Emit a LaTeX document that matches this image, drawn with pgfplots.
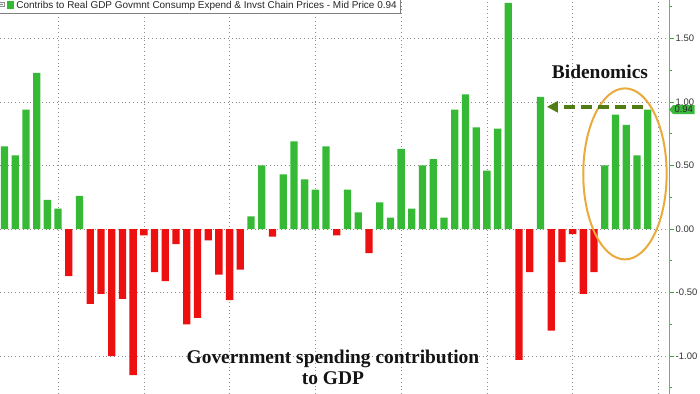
\documentclass[border=0pt]{standalone}
\usepackage{pgfplots}
\pgfplotsset{compat=1.18}
\usepackage{pgfplotstable}
\usepackage{fontspec}
\setmainfont{Liberation Sans}
\newfontfamily\annfont{Liberation Serif}
\usetikzlibrary{arrows.meta,shapes.symbols}
\definecolor{barGreen}{RGB}{54,186,54}
\definecolor{barRed}{RGB}{236,16,16}
\definecolor{axisGreen}{RGB}{120,170,120}
\definecolor{tickGreen}{RGB}{60,160,60}
\definecolor{arrowGreen}{RGB}{80,125,20}
\definecolor{ellOrange}{RGB}{234,170,60}
\definecolor{labelGreen}{RGB}{60,185,60}

\pgfplotstableread{
x y
0 0.65
1 0.58
2 0.94
3 1.23
4 0.23
5 0.16
7 0.26
23 0.10
24 0.50
26 0.43
27 0.69
28 0.39
29 0.31
30 0.65
32 0.31
33 0.13
35 0.21
36 0.09
37 0.63
38 0.16
39 0.50
40 0.55
41 0.09
42 0.94
43 1.06
44 0.80
45 0.46
46 0.79
47 1.78
50 1.04
56 0.50
57 0.90
58 0.82
59 0.58
60 0.94
}\greendata

\pgfplotstableread{
x y
6 -0.37
8 -0.59
9 -0.51
10 -1.00
11 -0.55
12 -1.15
13 -0.05
14 -0.34
15 -0.41
16 -0.12
17 -0.75
18 -0.70
19 -0.09
20 -0.36
21 -0.56
22 -0.32
25 -0.06
31 -0.05
34 -0.19
48 -1.03
49 -0.34
51 -0.80
52 -0.26
53 -0.04
54 -0.51
55 -0.34
}\reddata

\begin{document}
\begin{tikzpicture}
\begin{axis}[
  at={(0,0)}, anchor=south west,
  scale only axis, width=669bp, height=394bp,
  xmin=-0.42, xmax=61.99, ymin=-1.299, ymax=1.803,
  axis x line=bottom, x axis line style={draw=none},
  xtick={5,13,...,61}, xticklabels={},
  major x tick style={draw=none},
  axis y line=right, y axis line style={color=axisGreen, line width=0.8bp, -},
  ytick={-1,-0.5,0,0.5,1,1.5},
  minor ytick={-1.25,-0.75,-0.25,0.25,0.75,1.25,1.75},
  tick align=outside, major tick length=5bp, minor tick length=3bp,
  y tick style={color=tickGreen, line width=0.8bp},
  grid=major,
  major grid style={color=black!45, line width=0.7bp, dash pattern=on 0.8bp off 3bp},
  yticklabel style={font=\fontsize{9.5}{10}\selectfont, text=black!80, inner xsep=1.5bp,
    /pgf/number format/fixed, /pgf/number format/fixed zerofill,
    /pgf/number format/precision=2, /pgf/number format/assume math mode=true},
  legend style={at={(axis description cs:-0.003,1.006)}, anchor=north west,
    draw=black!50, fill=white, inner sep=1.2bp, font=\fontsize{10}{11}\selectfont,
    text=black!85},
  legend image code/.code={
    \draw[black!45, line width=0.3bp, fill=white] (0bp,-0.5bp) rectangle (4.2bp,3.7bp);
    \draw[black!45, line width=0.3bp] (0.8bp,1.6bp) -- (3.4bp,1.6bp);
    \fill[barGreen] (7bp,-3.4bp) rectangle (14.8bp,4.4bp);
  },
  clip=false,
]
\addplot[ybar, bar width=7.3bp, bar shift=0pt, fill=barGreen, draw=none] table[x=x,y=y] {\greendata};
\addlegendentry{Contribs to Real GDP Govmnt Consump Expend \& Invst Chain Prices - Mid Price 0.94}
\addplot[ybar, bar width=7.3bp, bar shift=0pt, fill=barRed, draw=none, forget plot] table[x=x,y=y] {\reddata};

% annotations
\draw[ellOrange, line width=2bp] (axis cs:57.88,0.434) ellipse [x radius=41.7bp, y radius=85.5bp];
\draw[arrowGreen, line width=4bp, dash pattern=on 11bp off 6bp, -{Triangle[length=11bp,width=11bp]}]
  (axis cs:59.56,0.962) -- (axis cs:50.6,0.962);
\node[signal, signal to=west, signal pointer angle=100, fill=labelGreen, text=black!85,
  inner xsep=1.5bp, inner ysep=1.2bp, font=\fontsize{9.5}{10}\selectfont, anchor=west]
  at (axis cs:61.99,0.94) {0.94};

\node[text=black!92, font=\annfont\bfseries\fontsize{19.5}{21}\selectfont]
  at (axis cs:55.55,1.238) {Bidenomics};
\node[text=black!92, align=center, font=\annfont\bfseries\fontsize{19.5}{21}\selectfont]
  at (axis cs:30.64,-1.088) {Government spending contribution\\to GDP};
\end{axis}
\pgfresetboundingbox
\useasboundingbox (0,0) rectangle (700bp,394bp);
\end{tikzpicture}
\end{document}
